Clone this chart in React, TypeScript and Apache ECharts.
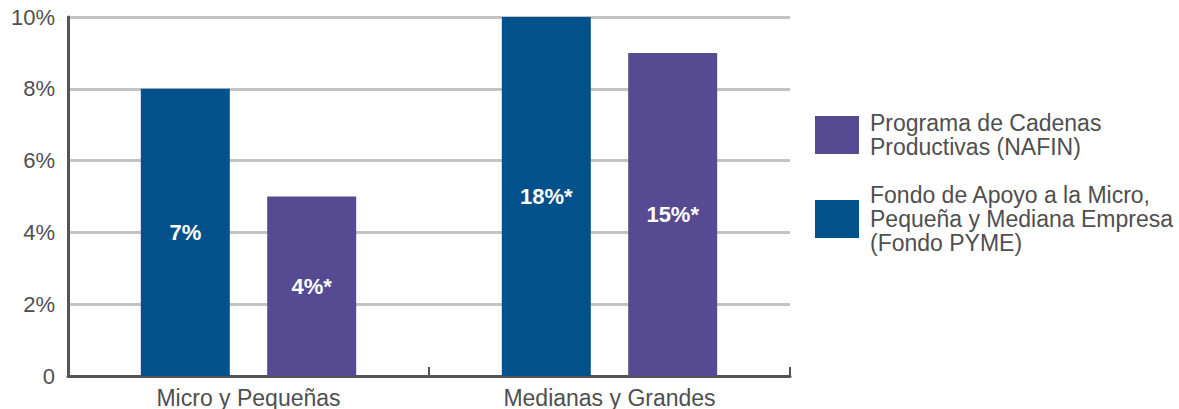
import React, { useEffect, useRef } from "react";
import * as echarts from "echarts";

// Categories on the x axis
const categories = ["Micro y Pequeñas", "Medianas y Grandes"];

// Series names (full) and the wrapped text shown in the legend
const seriesPyme = "Fondo de Apoyo a la Micro, Pequeña y Mediana Empresa (Fondo PYME)";
const seriesNafin = "Programa de Cadenas Productivas (NAFIN)";
const legendText: Record<string, string> = {
  [seriesNafin]: "Programa de Cadenas\nProductivas (NAFIN)",
  [seriesPyme]: "Fondo de Apoyo a la Micro,\nPequeña y Mediana Empresa\n(Fondo PYME)",
};

// Bar heights (percent) as plotted on the axis
const pymeValues = [8, 10];
const nafinValues = [5, 9];

// Rate labels printed inside each bar
const pymeLabels = ["7%", "18%*"];
const nafinLabels = ["4%*", "15%*"];

// Y axis ticks
const yMin = 0;
const yMax = 10;
const yStep = 2;

const BLUE = "#03518a";
const PURPLE = "#564a93";
const TEXT = "#4f4f4f";
const FONT = "'Liberation Sans', Arial, Helvetica, sans-serif";
const FONT_SIZE = 22;
const WIDE_FONT_SIZE = 23;

export default function App() {
  const ref = useRef<HTMLDivElement>(null);

  useEffect(() => {
    if (!ref.current) return;
    const chart = echarts.init(ref.current, undefined, { renderer: "svg" });

    const barLabel = (labels: string[]) => ({
      show: true,
      position: "inside" as const,
      color: "#ffffff",
      fontSize: FONT_SIZE,
      fontWeight: "bold" as const,
      fontFamily: FONT,
      formatter: (p: any) => labels[p.dataIndex],
    });

    chart.setOption({
      animation: false,
      textStyle: { fontFamily: FONT },
      grid: { left: 68, top: 17, right: 389, bottom: 32, containLabel: false },
      legend: {
        orient: "vertical",
        left: 810,
        top: 106,
        data: [seriesNafin, seriesPyme],
        itemWidth: 44,
        itemHeight: 38,
        itemGap: 24,
        icon: "rect",
        selectedMode: false,
        formatter: (name: string) => legendText[name] ?? name,
        textStyle: {
          color: TEXT,
          fontSize: WIDE_FONT_SIZE,
          lineHeight: 24,
          fontFamily: FONT,
          padding: [0, 0, 0, 6],
        },
      },
      xAxis: {
        type: "category",
        data: categories,
        boundaryGap: true,
        axisLine: { show: true, lineStyle: { color: "#555555", width: 3 } },
        axisTick: { show: true, inside: true, length: 9, lineStyle: { color: "#555555", width: 2 } },
        axisLabel: { color: TEXT, fontSize: WIDE_FONT_SIZE, margin: 10, fontFamily: FONT },
        splitLine: { show: false },
      },
      yAxis: {
        type: "value",
        min: yMin,
        max: yMax,
        interval: yStep,
        axisLine: { show: true, lineStyle: { color: "#555555", width: 3 } },
        axisTick: { show: false },
        axisLabel: {
          color: TEXT,
          fontSize: FONT_SIZE,
          margin: 13,
          fontFamily: FONT,
          formatter: (v: number) => (v === 0 ? "0" : `${v}%`),
        },
        splitLine: { show: true, lineStyle: { color: "#c4c4c6", width: 3 } },
      },
      series: [
        {
          name: seriesPyme,
          type: "bar",
          data: pymeValues,
          barWidth: 89,
          barGap: "42%",
          itemStyle: { color: BLUE },
          label: barLabel(pymeLabels),
        },
        {
          name: seriesNafin,
          type: "bar",
          data: nafinValues,
          barWidth: 89,
          itemStyle: { color: PURPLE },
          label: barLabel(nafinLabels),
        },
      ],
    });

    return () => chart.dispose();
  }, []);

  return (
    <div
      ref={ref}
      style={{ position: "fixed", left: 0, top: 0, width: 1179, height: 409, background: "#ffffff" }}
    />
  );
}
